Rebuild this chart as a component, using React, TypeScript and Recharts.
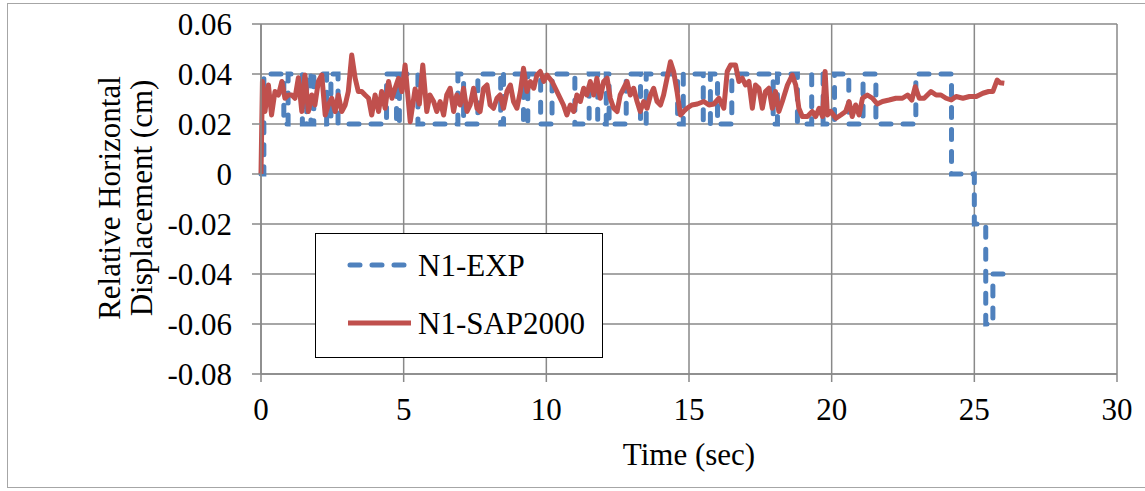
import React from "react";
import {
  LineChart,
  Line,
  XAxis,
  YAxis,
  CartesianGrid,
  Legend,
} from "recharts";

// N1-EXP: measured displacement, recorded in 0.02 cm steps
const expTime = [
  0, 0.1, 0.1,
  0.8, 0.8, 0.95, 0.95,
  1.45, 1.45, 1.6, 1.6,
  1.75, 1.75, 1.85, 1.85,
  2.3, 2.3, 2.45, 2.45,
  2.7, 2.7, 4.4, 4.4,
  4.75, 4.75, 4.85, 4.85,
  5.5, 5.5, 6.9, 6.9,
  7.1, 7.1, 7.6, 7.6,
  8.4, 8.4, 8.5, 8.5,
  9.2, 9.2, 9.35, 9.35,
  9.8, 9.8, 10.2, 10.2,
  11.0, 11.0, 11.5, 11.5,
  11.8, 11.8, 12.1, 12.1, 12.2, 12.2, 12.8, 12.8,
  13.3, 13.3, 13.5, 13.5,
  14.6, 14.6, 14.8, 14.8,
  15.5, 15.5, 15.75, 15.75,
  16.0, 16.0, 16.5, 16.5,
  17.95, 17.95, 18.1, 18.1,
  18.8, 18.8, 19.3, 19.3,
  19.7, 19.7, 20.1, 20.1,
  20.6, 20.6, 21.1, 21.1,
  21.55, 21.55, 22.95, 22.95,
  24.2, 24.2, 25.0, 25.0, 25.4, 25.4, 25.65, 25.65, 26.2,
];
const expDisp = [
  0, 0, 0.04,
  0.04, 0.02, 0.02, 0.04,
  0.04, 0.02, 0.02, 0.04,
  0.04, 0.02, 0.02, 0.04,
  0.04, 0.02, 0.02, 0.04,
  0.04, 0.02, 0.02, 0.04,
  0.04, 0.02, 0.02, 0.04,
  0.04, 0.02, 0.02, 0.04,
  0.04, 0.02, 0.02, 0.04,
  0.04, 0.02, 0.02, 0.04,
  0.04, 0.02, 0.02, 0.04,
  0.04, 0.02, 0.02, 0.04,
  0.04, 0.02, 0.02, 0.04,
  0.04, 0.02, 0.02, 0.04, 0.04, 0.02, 0.02, 0.04,
  0.04, 0.02, 0.02, 0.04,
  0.04, 0.02, 0.02, 0.04,
  0.04, 0.02, 0.02, 0.04,
  0.04, 0.02, 0.02, 0.04,
  0.04, 0.02, 0.02, 0.04,
  0.04, 0.02, 0.02, 0.04,
  0.04, 0.02, 0.02, 0.04,
  0.04, 0.02, 0.02, 0.04,
  0.04, 0.02, 0.02, 0.04,
  0.04, 0, 0, -0.02, -0.02, -0.06, -0.06, -0.04, -0.04,
];

// N1-SAP2000: numerical model response
const sapTime = [
  0, 0.05,
  0.14, 0.26, 0.37, 0.49, 0.61, 0.73, 0.84, 0.96, 1.08, 1.19, 1.31, 1.43,
  1.54, 1.66, 1.78, 1.89, 2.01, 2.13, 2.25, 2.36, 2.48, 2.6, 2.71, 2.83,
  2.95, 3.06, 3.18, 3.3, 3.41, 3.53, 3.65, 3.77, 3.88, 4.0, 4.12, 4.23,
  4.35, 4.47, 4.59, 4.7, 4.82, 4.94, 5.05,
  5.23, 5.4, 5.55, 5.67, 5.81, 5.92, 6.05, 6.16, 6.28, 6.4, 6.51, 6.63,
  6.75, 6.86, 6.98, 7.1, 7.22, 7.33, 7.45, 7.57, 7.68, 7.8, 7.92, 8.03,
  8.15, 8.27, 8.38, 8.5, 8.62, 8.74, 8.85, 8.97, 9.09, 9.2, 9.32, 9.44,
  9.56, 9.67, 9.79, 9.91, 10.02,
  10.2, 10.43, 10.6, 10.72, 10.84, 10.96, 11.07, 11.19, 11.31, 11.42,
  11.54, 11.66, 11.77, 11.89, 12.01, 12.13, 12.24, 12.36, 12.48, 12.59,
  12.71, 12.83, 12.94, 13.06, 13.18, 13.29, 13.41, 13.53, 13.65, 13.76,
  13.88, 14.0, 14.11, 14.23, 14.35, 14.46, 14.58, 14.7, 14.81, 14.93, 15.1,
  15.29, 15.52, 15.7, 15.87, 16.05, 16.22, 16.34, 16.46, 16.63, 16.75,
  16.87, 16.98, 17.1, 17.22, 17.33, 17.45, 17.57, 17.68, 17.8, 17.92,
  18.03, 18.15, 18.27, 18.45, 18.62, 18.74, 18.85, 18.97, 19.15, 19.32,
  19.44, 19.56, 19.68, 19.77, 19.85, 19.97, 20.15,
  20.32, 20.49, 20.61, 20.72, 20.84, 20.96, 21.08, 21.25, 21.43, 21.6,
  21.78, 22.01, 22.25, 22.48, 22.66, 22.81, 22.93, 23.07, 23.24, 23.48,
  23.66, 23.83, 24.01, 24.19, 24.36, 24.6, 24.83, 25.07, 25.3,
  25.5, 25.65, 25.8, 25.9, 26.05,
];
const sapDisp = [
  0, 0.037,
  0.025, 0.0356, 0.0236, 0.033, 0.0316, 0.037, 0.0303, 0.0316, 0.0316, 0.0303, 0.0385, 0.025,
  0.0396, 0.025, 0.0316, 0.0276, 0.037, 0.0396, 0.0236, 0.0276, 0.0303, 0.025, 0.0316, 0.025,
  0.0276, 0.033, 0.0476, 0.0383, 0.033, 0.033, 0.0316, 0.0303, 0.0236, 0.0316, 0.025, 0.033,
  0.0263, 0.037, 0.0303, 0.0343, 0.0383, 0.033, 0.0436,
  0.0209, 0.034, 0.028, 0.0436, 0.025, 0.0316, 0.029, 0.025, 0.029, 0.0236, 0.0316, 0.0343,
  0.025, 0.0316, 0.0276, 0.0343, 0.025, 0.0276, 0.0343, 0.0263, 0.025, 0.0343, 0.0356, 0.0276,
  0.0263, 0.0303, 0.0316, 0.0263, 0.033, 0.0356, 0.029, 0.0263, 0.033, 0.0423, 0.033, 0.037,
  0.0343, 0.0396, 0.041, 0.037, 0.0396,
  0.037, 0.0316, 0.0276, 0.0236, 0.0276, 0.025, 0.0316, 0.029, 0.0343, 0.0316,
  0.037, 0.0316, 0.0383, 0.0303, 0.037, 0.0383, 0.0303, 0.0263, 0.025, 0.0316,
  0.0343, 0.037, 0.0316, 0.0343, 0.029, 0.025, 0.029, 0.0263, 0.0316, 0.0343,
  0.029, 0.0276, 0.0316, 0.0383, 0.0449, 0.041, 0.033, 0.0236, 0.025, 0.0263, 0.0276,
  0.028, 0.029, 0.0276, 0.028, 0.0303, 0.0263, 0.041, 0.0436, 0.0436, 0.037,
  0.0383, 0.0356, 0.037, 0.0263, 0.0356, 0.0343, 0.0263, 0.033, 0.0343, 0.0263,
  0.033, 0.025, 0.029, 0.0356, 0.0396, 0.0356, 0.0263, 0.023, 0.023, 0.025,
  0.023, 0.0263, 0.023, 0.041, 0.0236, 0.025, 0.0223,
  0.0236, 0.025, 0.029, 0.023, 0.0276, 0.0236, 0.0303, 0.0316, 0.0303, 0.028,
  0.029, 0.0296, 0.0303, 0.0303, 0.0316, 0.0296, 0.0349, 0.0303, 0.0303, 0.033,
  0.0316, 0.0316, 0.0303, 0.0296, 0.031, 0.0303, 0.031, 0.031, 0.0323,
  0.033, 0.033, 0.0376, 0.0365, 0.0363,
];

const timeTicks = [0, 5, 10, 15, 20, 25, 30];
const dispTicks = [-0.08, -0.06, -0.04, -0.02, 0, 0.02, 0.04, 0.06];

const expData = expTime.map((t, i) => ({ time: t, disp: expDisp[i] }));
const sapData = sapTime.map((t, i) => ({ time: t, disp: sapDisp[i] }));

const FONT = '"Liberation Serif", "Times New Roman", serif';
const GRID = "#898989";
const BLUE = "#4F81BD";
const RED = "#C0504D";

const fmtDisp = (v: number) => (Math.abs(v) < 1e-9 ? "0" : v.toFixed(2));

function YTitle() {
  return (
    <g fontFamily={FONT} fontSize={31} fill="#000">
      <text transform="translate(120,198) rotate(-90)" textAnchor="middle">
        Relative Horizontal
      </text>
      <text transform="translate(152,198) rotate(-90)" textAnchor="middle">
        Displacement (cm)
      </text>
    </g>
  );
}

function LegendBox() {
  return (
    <svg width={288} height={125} style={{ display: "block" }}>
      <rect x={0.5} y={0.5} width={287} height={124} fill="#fff" stroke="#000" strokeWidth={1} />
      <line
        x1={35}
        x2={95}
        y1={32}
        y2={32}
        stroke={BLUE}
        strokeWidth={5}
        strokeDasharray="10 12"
        strokeLinecap="round"
      />
      <text x={103} y={32} dominantBaseline="central" fontFamily={FONT} fontSize={31}>
        N1-EXP
      </text>
      <line x1={33} x2={96} y1={90} y2={90} stroke={RED} strokeWidth={5} />
      <text x={103} y={90} dominantBaseline="central" fontFamily={FONT} fontSize={31}>
        N1-SAP2000
      </text>
    </svg>
  );
}

export default function App() {
  return (
    <div style={{ position: "absolute", left: 0, top: 0, width: 1145, height: 491, background: "#fff" }}>
      <div
        style={{
          position: "absolute",
          left: 7,
          top: 3,
          width: 1160,
          height: 485,
          border: "1.5px solid #a6a6a6",
          boxSizing: "border-box",
        }}
      />
      <LineChart
        width={1145}
        height={491}
        margin={{ top: 24, right: 28, bottom: 0, left: 0 }}
        style={{ position: "absolute", left: 0, top: 0 }}
      >
        <CartesianGrid stroke={GRID} strokeWidth={1.5} />
        <XAxis
          dataKey="time"
          type="number"
          domain={[0, 30]}
          ticks={timeTicks}
          allowDuplicatedCategory={false}
          height={117}
          tickSize={8}
          tickMargin={16}
          stroke={GRID}
          strokeWidth={1.5}
          tick={{ fontFamily: FONT, fontSize: 31, fill: "#000" }}
          label={{
            value: "Time (sec)",
            position: "insideBottom",
            offset: 26,
            style: { fontFamily: FONT, fontSize: 31, fill: "#000" },
          }}
        />
        <YAxis
          type="number"
          domain={[-0.08, 0.06]}
          ticks={dispTicks}
          width={261}
          tickSize={9}
          tickMargin={20}
          stroke={GRID}
          strokeWidth={1.5}
          tickFormatter={fmtDisp}
          tick={{ fontFamily: FONT, fontSize: 31, fill: "#000" }}
          label={{ content: () => <YTitle /> }}
        />
        <Legend
          layout="vertical"
          align="center"
          verticalAlign="middle"
          wrapperStyle={{ left: 315, top: 233, width: 288, height: 125 }}
          content={() => <LegendBox />}
        />
        <Line
          data={expData}
          dataKey="disp"
          name="N1-EXP"
          type="linear"
          stroke={BLUE}
          strokeWidth={5}
          strokeDasharray="10 12"
          strokeLinecap="round"
          dot={false}
          activeDot={false}
          isAnimationActive={false}
        />
        <Line
          data={sapData}
          dataKey="disp"
          name="N1-SAP2000"
          type="linear"
          stroke={RED}
          strokeWidth={5}
          strokeLinejoin="round"
          dot={false}
          activeDot={false}
          isAnimationActive={false}
        />
      </LineChart>
    </div>
  );
}
